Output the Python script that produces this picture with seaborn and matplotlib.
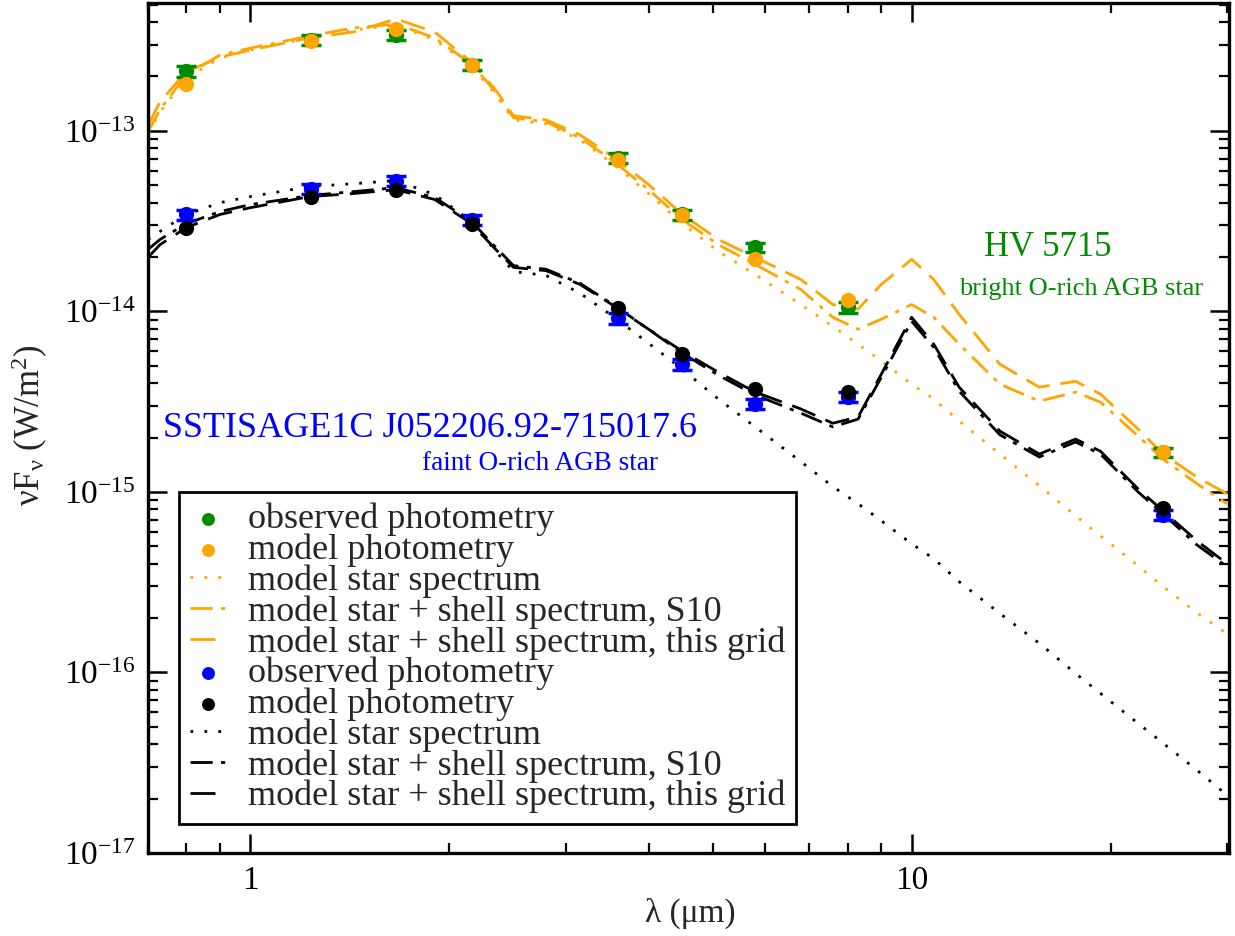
import numpy as np
import pandas as pd
import matplotlib
matplotlib.use("Agg")
import matplotlib.pyplot as plt
import seaborn as sns

# photometry bands (micron): I, J, H, Ks, IRAC 3.6/4.5/5.8/8.0, MIPS 24
lam_phot = [0.80, 1.235, 1.66, 2.16, 3.6, 4.5, 5.8, 8.0, 24.0]

# HV 5715 (bright O-rich AGB star)
hv_obs = [2.14e-13, 3.18e-13, 3.40e-13, 2.32e-13, 7.09e-14, 3.44e-14, 2.26e-14, 1.05e-14, 1.66e-15]
hv_err = [0.15e-13, 0.20e-13, 0.22e-13, 0.15e-13, 0.45e-14, 0.22e-14, 0.14e-14, 0.07e-14, 0.10e-15]
hv_mod = [1.82e-13, 3.14e-13, 3.66e-13, 2.32e-13, 6.90e-14, 3.40e-14, 1.94e-14, 1.16e-14, 1.66e-15]

# SSTISAGE1C J052206.92-715017.6 (faint O-rich AGB star)
ss_obs = [3.44e-14, 4.78e-14, 5.30e-14, 3.22e-14, 9.15e-15, 5.09e-15, 3.06e-15, 3.35e-15, 7.46e-16]
ss_err = [0.22e-14, 0.30e-14, 0.34e-14, 0.20e-14, 0.60e-15, 0.33e-15, 0.20e-15, 0.22e-15, 0.48e-16]
ss_mod = [2.91e-14, 4.32e-14, 4.67e-14, 3.03e-14, 1.04e-14, 5.78e-15, 3.71e-15, 3.56e-15, 8.16e-16]

# model spectra wavelength grid (micron)
lam_mod = [0.70, 0.73, 0.80, 0.90, 1.0, 1.23, 1.43, 1.66, 1.9, 2.16, 2.35, 2.5, 2.8, 3.15,
           3.55, 4.0, 4.5, 5.1, 5.8, 6.8, 7.6, 8.3, 9.0, 10.0, 10.8, 11.8, 13.6, 15.6,
           17.7, 19.3, 22.0, 24.0, 27.0, 30.0]

hv_star = [9.62e-14, 1.27e-13, 1.96e-13, 2.53e-13, 2.80e-13, 3.27e-13, 3.61e-13, 3.85e-13,
           3.19e-13, 2.29e-13, 1.58e-13, 1.15e-13, 1.09e-13, 8.92e-14, 6.49e-14, 4.49e-14,
           3.06e-14, 2.15e-14, 1.60e-14, 1.09e-14, 8.26e-15, 6.58e-15, 5.30e-15, 3.95e-15,
           3.27e-15, 2.47e-15, 1.62e-15, 1.08e-15, 7.37e-16, 5.71e-16, 3.90e-16, 2.99e-16,
           2.14e-16, 1.64e-16]
hv_s10 = [9.87e-14, 1.31e-13, 2.04e-13, 2.63e-13, 2.87e-13, 3.35e-13, 3.71e-13, 3.90e-13,
          3.27e-13, 2.34e-13, 1.64e-13, 1.18e-13, 1.12e-13, 9.15e-14, 6.74e-14, 4.72e-14,
          3.22e-14, 2.34e-14, 1.82e-14, 1.32e-14, 9.27e-15, 7.96e-15, 9.04e-15, 1.09e-14,
          9.27e-15, 6.58e-15, 3.95e-15, 3.18e-15, 3.57e-15, 3.14e-15, 2.04e-15, 1.52e-15,
          1.11e-15, 8.59e-16]
hv_grid = [1.07e-13, 1.45e-13, 2.12e-13, 2.56e-13, 2.80e-13, 3.27e-13, 3.52e-13, 4.16e-13,
           3.52e-13, 2.40e-13, 1.68e-13, 1.21e-13, 1.15e-13, 9.50e-14, 7.10e-14, 5.04e-14,
           3.44e-14, 2.50e-14, 1.99e-14, 1.50e-14, 1.09e-14, 1.03e-14, 1.41e-14, 1.94e-14,
           1.50e-14, 9.62e-15, 5.09e-15, 3.80e-15, 4.10e-15, 3.48e-15, 2.23e-15, 1.62e-15,
           1.21e-15, 9.75e-16]

ss_star = [2.50e-14, 2.77e-14, 3.44e-14, 4.00e-14, 4.32e-14, 4.91e-14, 5.09e-14, 5.30e-14,
           4.43e-14, 3.14e-14, 2.15e-14, 1.66e-14, 1.58e-14, 1.26e-14, 9.27e-15, 6.66e-15,
           4.78e-15, 3.27e-15, 2.29e-15, 1.47e-15, 1.07e-15, 8.59e-16, 6.92e-16, 5.16e-16,
           4.27e-16, 3.18e-16, 2.12e-16, 1.45e-16, 9.87e-17, 7.66e-17, 5.23e-17, 4.06e-17,
           2.88e-17, 2.09e-17]
ss_s10 = [2.20e-14, 2.50e-14, 3.06e-14, 3.57e-14, 3.90e-14, 4.38e-14, 4.60e-14, 4.84e-14,
          4.27e-14, 3.14e-14, 2.26e-14, 1.79e-14, 1.71e-14, 1.43e-14, 1.08e-14, 7.96e-15,
          5.86e-15, 4.43e-15, 3.44e-15, 2.73e-15, 2.29e-15, 2.53e-15, 4.32e-15, 8.81e-15,
          6.32e-15, 3.61e-15, 2.07e-15, 1.56e-15, 1.89e-15, 1.62e-15, 1.00e-15, 7.56e-16,
          5.09e-16, 3.85e-16]
ss_grid = [1.99e-14, 2.34e-14, 2.91e-14, 3.44e-14, 3.75e-14, 4.32e-14, 4.49e-14, 4.72e-14,
           4.16e-14, 3.06e-14, 2.20e-14, 1.75e-14, 1.68e-14, 1.41e-14, 1.07e-14, 7.96e-15,
           6.01e-15, 4.60e-15, 3.57e-15, 2.88e-15, 2.40e-15, 2.60e-15, 4.49e-15, 9.27e-15,
           6.58e-15, 3.80e-15, 2.17e-15, 1.62e-15, 1.96e-15, 1.68e-15, 1.04e-15, 7.85e-16,
           5.36e-16, 4.00e-16]

y_ticks = [1e-17, 1e-16, 1e-15, 1e-14, 1e-13]
x_ticks = [1, 10]

ORANGE = "#FFA500"
GREEN = "#008C00"
BLUE = "#0000FF"

sns.set_style("ticks")
plt.rcParams["font.family"] = ["Liberation Serif", "DejaVu Serif"]
plt.rcParams["mathtext.fontset"] = "custom"
plt.rcParams["mathtext.rm"] = "Liberation Serif"
plt.rcParams["mathtext.it"] = "Liberation Serif:italic"
plt.rcParams["axes.unicode_minus"] = False

fig = plt.figure(figsize=(12.35, 9.36), dpi=100)
ax = fig.add_axes([148 / 1235, 83 / 936, 1081 / 1235, 850 / 936])
ax.set_xscale("log")
ax.set_yscale("log")

lw = 2.0
dot = (0, (1, 4))
dashdot = (0, (8, 3, 1.5, 3))
dashed = (0, (9, 4))


def spec(y, color, ls, label):
    sns.lineplot(x=lam_mod, y=y, ax=ax, color=color, lw=lw, label=label,
                 estimator=None, sort=False)
    ax.lines[-1].set_linestyle(ls)


def phot(obs, err, mod, c_obs, c_mod, lab_obs, lab_mod):
    ax.errorbar(lam_phot, obs, yerr=err, fmt="none", ecolor=c_obs, elinewidth=2,
                capsize=7, capthick=2.5, zorder=4)
    sns.scatterplot(x=lam_phot, y=obs, ax=ax, color=c_obs, s=120, linewidth=0,
                    label=lab_obs, zorder=5)
    sns.scatterplot(x=lam_phot, y=mod, ax=ax, color=c_mod, s=120, linewidth=0,
                    label=lab_mod, zorder=6)


phot(hv_obs, hv_err, hv_mod, GREEN, ORANGE, "observed photometry", "model photometry")
spec(hv_star, ORANGE, dot, "model star spectrum")
spec(hv_s10, ORANGE, dashdot, "model star + shell spectrum, S10")
spec(hv_grid, ORANGE, dashed, "model star + shell spectrum, this grid")
phot(ss_obs, ss_err, ss_mod, BLUE, "black", "observed photometry", "model photometry")
spec(ss_star, "black", dot, "model star spectrum")
spec(ss_s10, "black", dashdot, "model star + shell spectrum, S10")
spec(ss_grid, "black", dashed, "model star + shell spectrum, this grid")

ax.set_xlim(0.7, 30.2)
ax.set_ylim(1e-17, 5.1e-13)

for sp in ax.spines.values():
    sp.set_linewidth(2.4)
    sp.set_color("black")
ax.tick_params(which="both", direction="in", top=True, right=True, colors="black")
ax.tick_params(which="major", length=14, width=1.8, labelsize=24, pad=9)
ax.tick_params(which="minor", length=7, width=1.6)
ax.set_xticks(x_ticks)
ax.set_xticklabels([str(t) for t in x_ticks])
ax.xaxis.set_minor_formatter(matplotlib.ticker.NullFormatter())
ax.set_yticks(y_ticks)
ax.set_yticklabels([f"$10^{{{int(np.log10(t))}}}$" for t in y_ticks])
ax.yaxis.set_minor_locator(matplotlib.ticker.LogLocator(subs=np.arange(2, 10), numticks=20))
ax.yaxis.set_minor_formatter(matplotlib.ticker.NullFormatter())

fig.text(30 / 1235, 1 - 425 / 936, r"$\mathrm{\nu F_{\nu}\ (W/m^{2})}$", rotation=90,
         ha="center", va="center", fontsize=25)
fig.text(690 / 1235, 1 - 913 / 936, "λ (μm)", ha="center", va="center", fontsize=24)

fig.text(1048 / 1235, 1 - 256 / 936, "HV 5715", color=GREEN, fontsize=25,
         ha="center", va="baseline")
fig.text(1081 / 1235, 1 - 295 / 936, "bright O-rich AGB star", color=GREEN, fontsize=19,
         ha="center", va="baseline")
fig.text(430 / 1235, 1 - 437 / 936, "SSTISAGE1C J052206.92-715017.6", color=BLUE,
         fontsize=26, ha="center", va="baseline")
fig.text(540 / 1235, 1 - 470 / 936, "faint O-rich AGB star", color=BLUE, fontsize=19.5,
         ha="center", va="baseline")

handles, labels = ax.get_legend_handles_labels()
leg = ax.legend(handles, labels, loc="upper left", bbox_to_anchor=(179 / 1235, 1 - 492 / 936),
                bbox_transform=fig.transFigure, borderaxespad=0, fontsize=26,
                labelspacing=-0.075, handlelength=1.0, handletextpad=0.6,
                borderpad=0.3, frameon=True, fancybox=False, framealpha=1,
                markerscale=0.85)
leg.get_frame().set_edgecolor("black")
leg.get_frame().set_linewidth(2)

fig.savefig("out.png", dpi=100)
